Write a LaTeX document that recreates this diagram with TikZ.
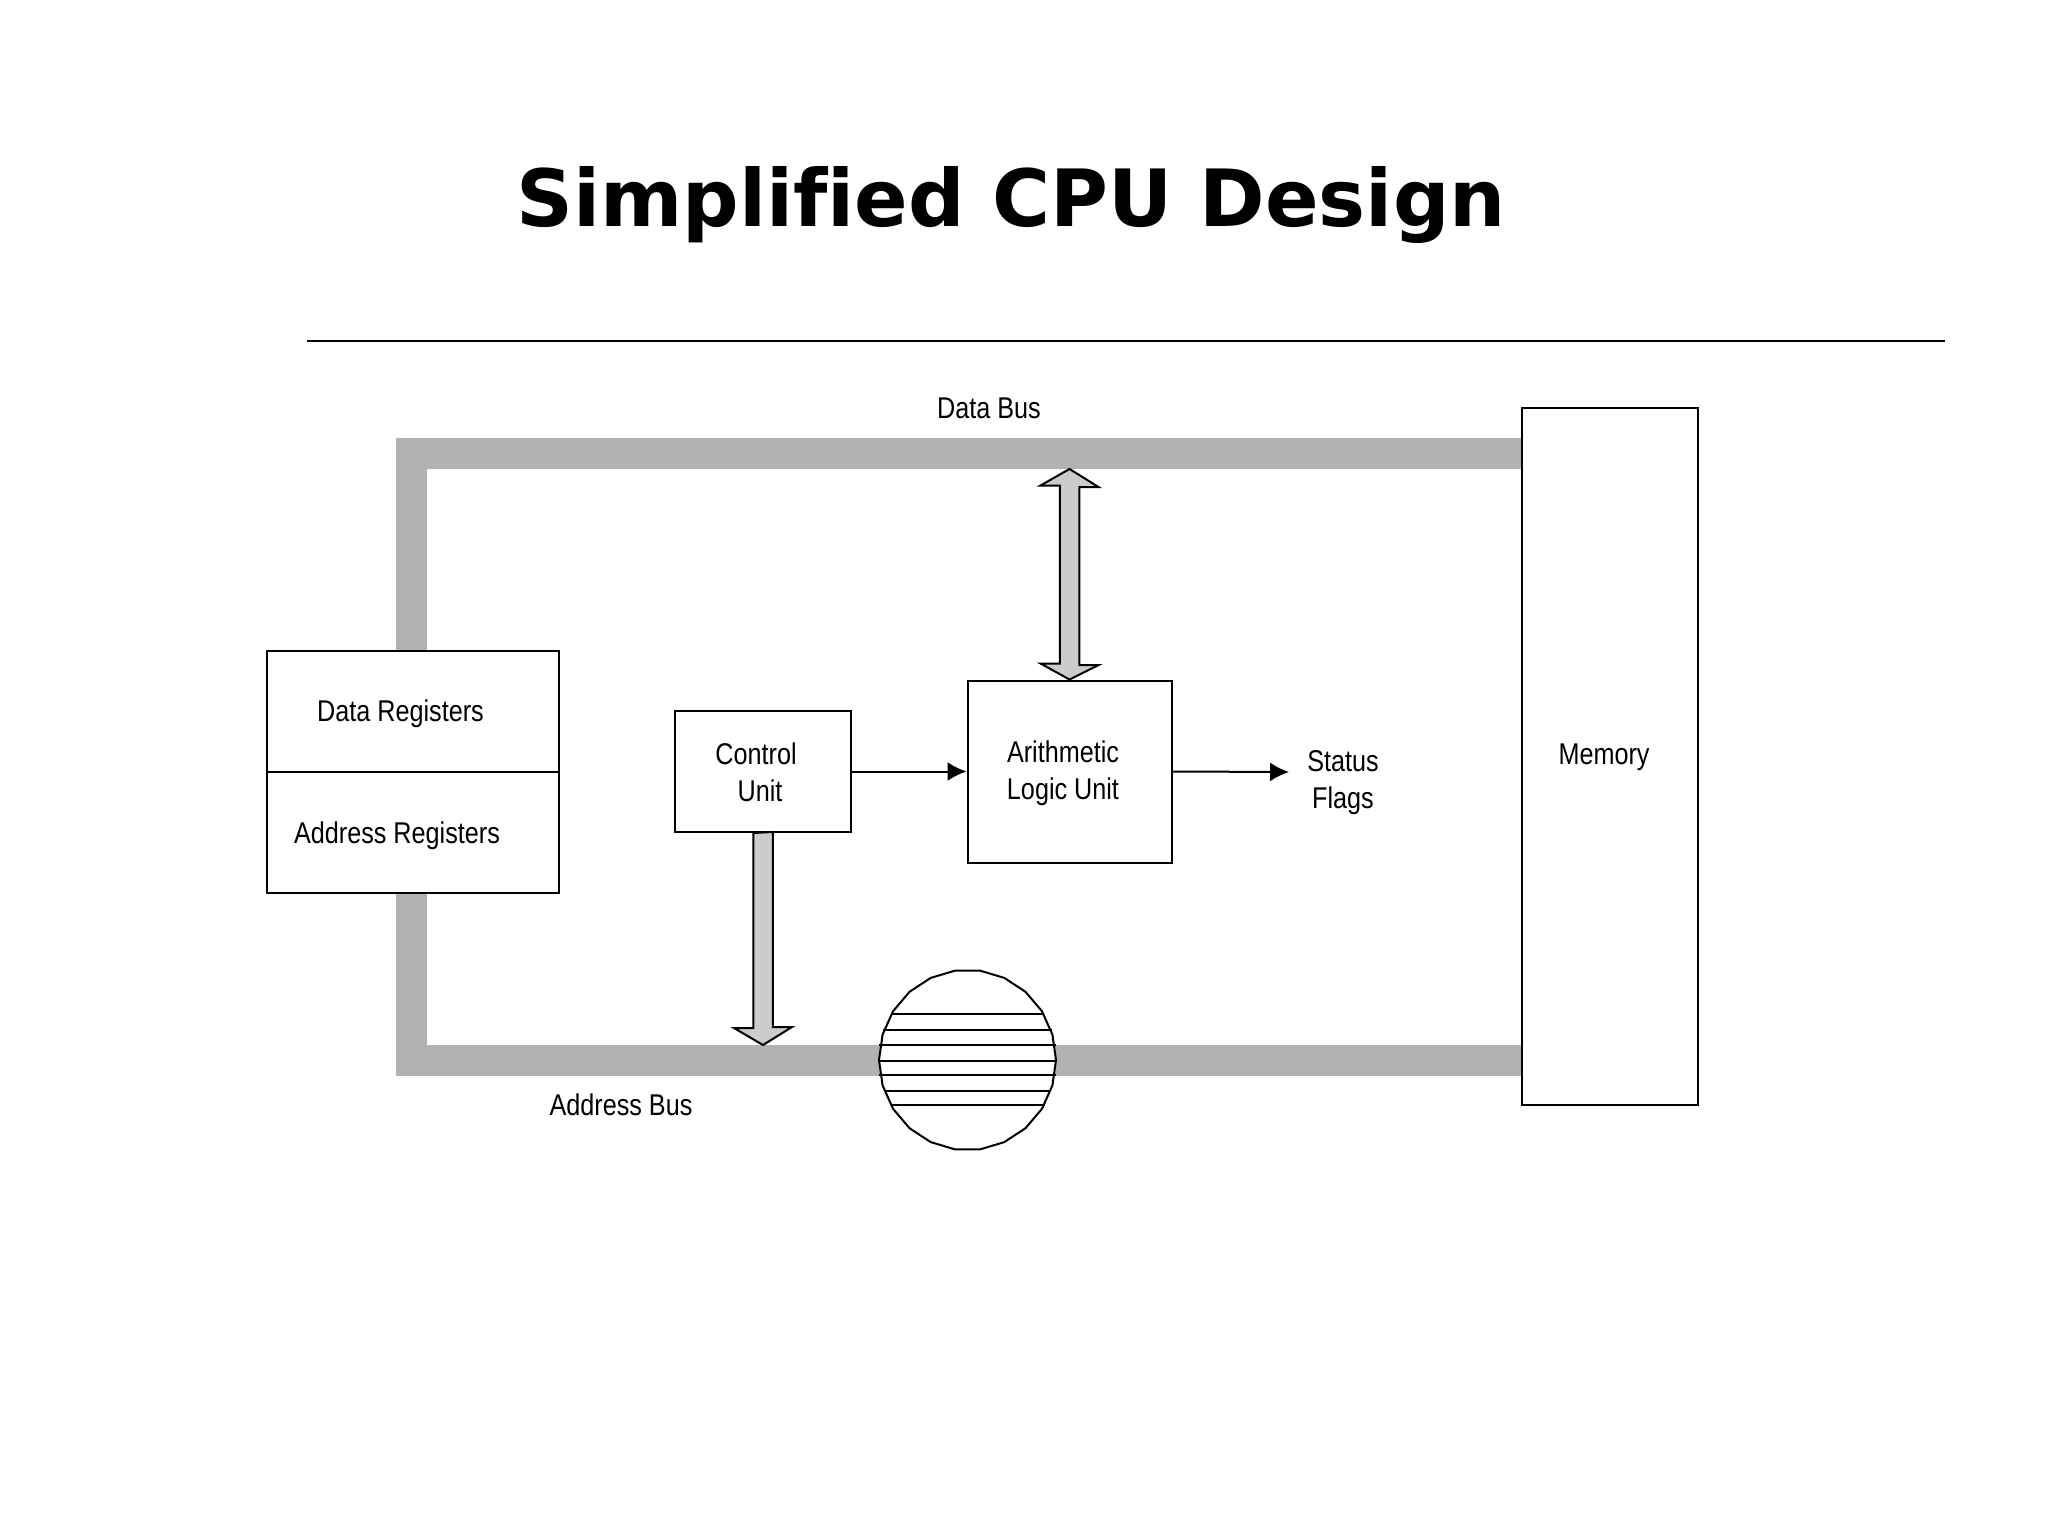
\documentclass[tikz,border=0pt]{standalone}
\usepackage{fontspec}
\setmainfont{Liberation Sans}[FakeStretch=0.84]
\newfontfamily\headfont{DejaVu Sans}[Ligatures=NoCommon]
\usepackage{tikz}
\usetikzlibrary{shapes.geometric,arrows.meta}
\definecolor{busgray}{RGB}{178,178,178}
\definecolor{arrowgray}{RGB}{204,204,204}

\begin{document}
\begin{tikzpicture}[x=1pt,y=-1pt]
        \tikzstyle{main box}=[draw,line width=2pt,inner sep=0pt,fill=white]
        \tikzstyle{small text}=[font=\fontsize{30}{37}\selectfont,align=center]
        \tikzstyle{bus line}=[draw=busgray,line width=31pt]
        \tikzstyle{fat arrow}=[draw,line width=2pt,fill=arrowgray,line join=miter]
        \tikzstyle{thin arrow}=[line width=2pt,-{Latex[length=19pt,width=19pt]}]
        \useasboundingbox (0,0) rectangle (2048,1536);

        \node[font=\fontsize{79}{90}\selectfont\headfont\bfseries] (title) at (1011,205) {Simplified CPU Design};
        \coordinate (ruleleft) at (307,341);
        \coordinate (ruleright) at (1945,341);
        \draw[line width=2.5pt] (ruleleft) -- (ruleright);

        \node[main box,minimum width=292pt,minimum height=121pt] (dataregs) at (413,711.5) {};
        \node[main box,minimum width=292pt,minimum height=121pt,node distance=121pt] (addrregs) [below of=dataregs] {};
        \node[main box,minimum width=176pt,minimum height=121pt] (control) at (763,771.5) {};
        \node[main box,minimum width=204pt,minimum height=182pt,node distance=306.5pt] (alu) [right of=control] {};
        \node[main box,minimum width=176pt,minimum height=697pt] (memory) at (1610,756.5) {};

        \coordinate (datacorner) at (1521,453.5);
        \coordinate (addrcorner) at (1521,1060);
        \draw[bus line] ([xshift=-1.5pt]dataregs.north) |- (datacorner);
        \draw[bus line] ([xshift=-1.5pt]addrregs.south) |- (addrcorner);

        \coordinate (alutip) at (1069.5,469);
        \coordinate (controltip) at (763,1045);
        \coordinate (flagsend) at (1289,772);
        \draw[fat arrow] (alu.north) -- ++(-29,-16) -- ++(19.25,0) -- ++(0,-178) -- ++(-19.25,0) -- (alutip)
            -- ++(29,18) -- ++(-19.25,0) -- ++(0,178) -- ++(19.25,0) -- cycle;
        \draw[fat arrow] (control.south) ++(-9.75,0) -- ++(0,195) -- ++(-19.25,0) -- (controltip)
            -- ++(29,-18) -- ++(-19.25,0) -- ++(0,-195) -- cycle;
        \draw[thin arrow] (control.east) -- (alu.west);
        \draw[thin arrow] (alu.east) -- (flagsend);

        \node[draw,fill=white,line width=2pt,regular polygon,regular polygon sides=22,inner sep=0pt,minimum size=177pt,yscale=1.02] (drum) at (967.5,1060) {};
        \foreach \dy/\dx in {-46/76.5,-30/84.5,-15/88.5,1/88.5,15/88.5,31/83,45/77}
            \draw[line width=2pt] (drum.center) ++(-\dx,\dy) -- ++({2*\dx},0);

        \node[small text] (databus) at (989,408) {Data Bus};
        \node[small text] (addrbus) at (621,1105) {Address Bus};
        \node[small text] (datalabel) at (400.5,714) {Data Registers};
        \node[small text] (addrlabel) at (397,836) {Address Registers};
        \node[small text] (controllabel) at (756,772) {Control\\\hspace*{8pt}Unit};
        \node[small text] (alulabel) at (1063,773.5) {Arithmetic\\Logic Unit};
        \node[small text] (flags) at (1343,782.5) {Status\\Flags};
        \node[small text] (memlabel) at (1604,757.5) {Memory};
    \end{tikzpicture}
\end{document}
